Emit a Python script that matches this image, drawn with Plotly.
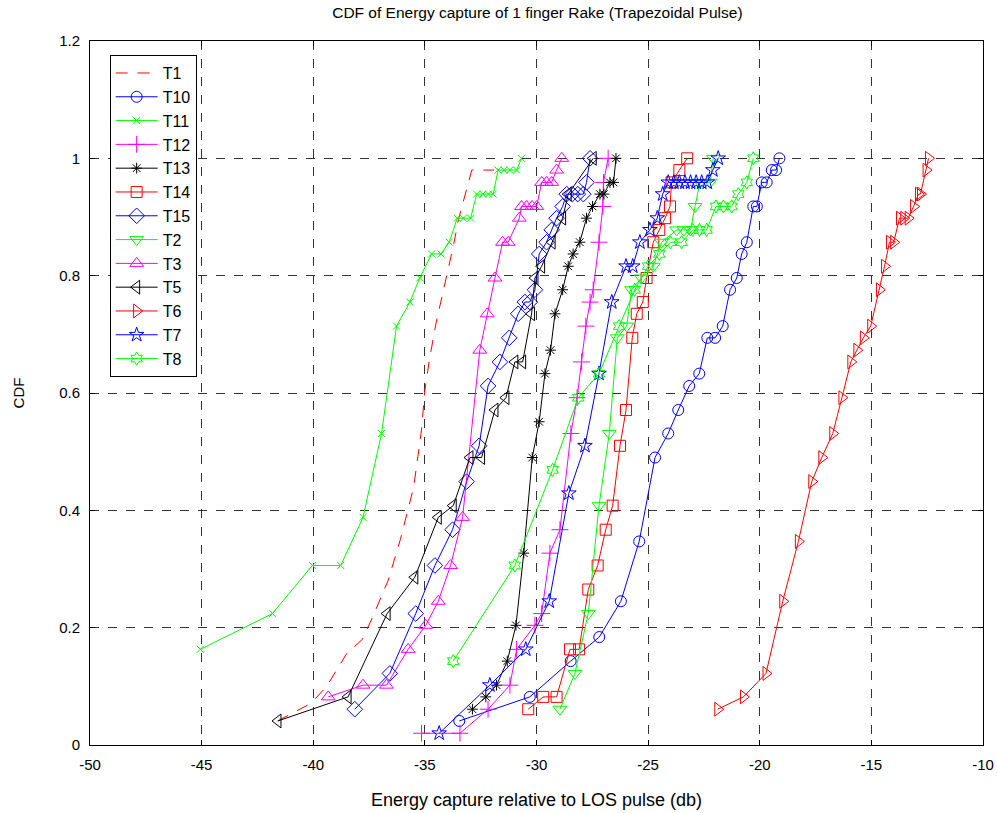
import plotly.graph_objects as go

# ---------------- data (x: energy capture in dB, y: CDF) ----------------
t1_x = [-41.6, -40.1, -39.4, -38.5, -37.8, -37.4, -36.65, -36.1, -35.5, -35.15, -35.0, -34.8, -34.5, -34.0, -33.7, -33.5, -33.1, -32.9, -31.9]
t1_y = [0.041, 0.071, 0.100, 0.156, 0.180, 0.213, 0.280, 0.350, 0.440, 0.537, 0.605, 0.656, 0.719, 0.804, 0.855, 0.895, 0.952, 0.980, 0.980]

t10_x = [-33.46, -30.30, -28.47, -27.19, -26.22, -25.40, -24.69, -24.10, -23.65, -23.16, -22.71, -22.35, -22.00, -21.66, -21.33, -21.03, -20.81, -20.58, -20.29, -20.13, -19.91, -19.69, -19.46, -19.27, -19.12]
t10_y = [0.041, 0.082, 0.143, 0.184, 0.245, 0.347, 0.490, 0.531, 0.571, 0.612, 0.633, 0.694, 0.694, 0.714, 0.776, 0.796, 0.837, 0.857, 0.918, 0.918, 0.959, 0.959, 0.980, 0.980, 1.000]

t11_x = [-45.06, -41.83, -40.04, -38.77, -37.77, -36.94, -36.27, -35.67, -35.23, -34.70, -34.28, -33.91, -33.55, -33.28, -32.95, -32.68, -32.40, -32.15, -31.94, -31.72, -31.45, -31.20, -30.89, -30.67]
t11_y = [0.163, 0.224, 0.306, 0.306, 0.388, 0.531, 0.714, 0.755, 0.796, 0.837, 0.837, 0.857, 0.898, 0.898, 0.898, 0.939, 0.939, 0.939, 0.939, 0.980, 0.980, 0.980, 0.980, 1.000]

t12_x = [-35.15, -33.43, -32.17, -31.19, -30.89, -30.07, -29.77, -29.40, -28.95, -28.46, -28.18, -27.98, -27.79, -27.60, -27.46, -27.20, -27.03, -27.00, -26.79]
t12_y = [0.020, 0.020, 0.061, 0.102, 0.163, 0.204, 0.224, 0.327, 0.367, 0.531, 0.592, 0.653, 0.714, 0.755, 0.776, 0.857, 0.918, 0.959, 1.000]

t13_x = [-32.87, -32.27, -31.79, -31.31, -30.92, -30.57, -30.19, -29.88, -29.62, -29.37, -29.17, -28.83, -28.58, -28.36, -28.06, -27.76, -27.49, -27.16, -26.98, -26.71, -26.55, -26.44]
t13_y = [0.061, 0.082, 0.102, 0.143, 0.204, 0.327, 0.490, 0.551, 0.633, 0.673, 0.735, 0.776, 0.816, 0.837, 0.857, 0.898, 0.918, 0.939, 0.939, 0.959, 0.959, 1.000]

t14_x = [-30.37, -29.70, -29.10, -28.50, -28.09, -27.68, -27.26, -26.90, -26.59, -26.26, -25.99, -25.71, -25.51, -25.24, -25.07, -24.77, -24.50, -24.24, -24.02, -23.95, -23.60, -23.25]
t14_y = [0.061, 0.082, 0.082, 0.163, 0.163, 0.265, 0.306, 0.367, 0.408, 0.510, 0.571, 0.694, 0.735, 0.755, 0.796, 0.857, 0.878, 0.898, 0.918, 0.959, 0.980, 1.000]

t15_x = [-38.14, -36.57, -35.41, -34.55, -33.76, -33.13, -32.57, -32.17, -31.64, -31.22, -30.82, -30.52, -30.30, -30.07, -29.88, -29.55, -29.32, -29.10, -28.83, -28.65, -28.40, -28.15, -27.90, -27.76, -27.60]
t15_y = [0.061, 0.122, 0.224, 0.306, 0.367, 0.449, 0.510, 0.612, 0.653, 0.694, 0.735, 0.755, 0.755, 0.776, 0.837, 0.857, 0.878, 0.898, 0.918, 0.939, 0.939, 0.939, 0.939, 0.959, 1.000]

t2_x = [-28.95, -28.28, -27.68, -27.20, -26.74, -26.38, -25.96, -25.74, -25.30, -24.77, -24.40, -23.72, -23.40, -23.10, -22.90, -22.68, -22.23, -22.08]
t2_y = [0.061, 0.122, 0.224, 0.408, 0.531, 0.694, 0.714, 0.776, 0.796, 0.816, 0.857, 0.878, 0.878, 0.878, 0.918, 0.959, 0.959, 1.000]

t3_x = [-39.33, -37.77, -36.72, -35.75, -34.96, -34.40, -33.85, -33.31, -32.54, -32.21, -31.86, -31.52, -31.27, -30.77, -30.67, -30.45, -30.20, -29.99, -29.77, -29.55, -29.32, -29.10, -28.87]
t3_y = [0.082, 0.102, 0.102, 0.163, 0.204, 0.245, 0.306, 0.388, 0.673, 0.735, 0.796, 0.857, 0.857, 0.898, 0.918, 0.918, 0.918, 0.918, 0.959, 0.959, 0.959, 0.980, 1.000]

t5_x = [-41.58, -38.44, -36.69, -35.45, -34.40, -33.73, -32.98, -32.46, -31.86, -31.37, -30.97, -30.62, -30.22, -30.07, -29.77, -29.30, -28.83, -28.58, -27.46]
t5_y = [0.041, 0.082, 0.224, 0.286, 0.388, 0.408, 0.490, 0.490, 0.571, 0.592, 0.653, 0.653, 0.735, 0.796, 0.816, 0.857, 0.898, 0.939, 1.000]

t6_x = [-21.88, -20.73, -19.72, -18.97, -18.27, -17.67, -17.22, -16.73, -16.32, -15.92, -15.65, -15.36, -15.03, -14.64, -14.41, -14.19, -14.00, -13.74, -13.55, -13.35, -13.11, -12.89, -12.80, -12.55, -12.44]
t6_y = [0.061, 0.082, 0.122, 0.245, 0.347, 0.449, 0.490, 0.531, 0.592, 0.653, 0.673, 0.694, 0.714, 0.776, 0.816, 0.857, 0.857, 0.898, 0.898, 0.898, 0.918, 0.939, 0.939, 0.980, 1.000]

t7_x = [-34.36, -32.09, -30.48, -29.43, -28.55, -27.83, -27.20, -26.63, -25.99, -25.69, -25.37, -24.92, -24.59, -24.35, -24.10, -23.85, -23.60, -23.35, -23.10, -22.85, -22.60, -22.35, -22.10, -21.86]
t7_y = [0.020, 0.102, 0.163, 0.245, 0.429, 0.510, 0.633, 0.755, 0.816, 0.816, 0.857, 0.878, 0.898, 0.939, 0.959, 0.959, 0.959, 0.959, 0.959, 0.959, 0.959, 0.959, 0.980, 1.000]

t8_x = [-33.73, -30.97, -29.28, -28.13, -27.20, -26.30, -25.60, -25.00, -24.50, -24.00, -23.50, -23.00, -22.70, -22.38, -21.96, -21.63, -21.26, -20.96, -20.58, -20.29]
t8_y = [0.143, 0.306, 0.469, 0.592, 0.633, 0.714, 0.776, 0.816, 0.837, 0.857, 0.857, 0.878, 0.878, 0.878, 0.918, 0.918, 0.918, 0.939, 0.959, 1.000]

x_ticks = [-50, -45, -40, -35, -30, -25, -20, -15, -10]
x_tick_text = ["-50", "-45", "-40", "-35", "-30", "-25", "-20", "-15", "-10"]
y_ticks = [0, 0.2, 0.4, 0.6, 0.8, 1.0, 1.2]
y_tick_text = ["0", "0.2", "0.4", "0.6", "0.8", "1", "1.2"]

RED, BLUE, GREEN, MAG, BLK = "#FF0000", "#0000FF", "#00FF00", "#FF00FF", "#000000"

series = [
    ("T1", t1_x, t1_y, RED, None, 0),
    ("T10", t10_x, t10_y, BLUE, "circle-open", 11),
    ("T11", t11_x, t11_y, GREEN, "x-thin-open", 7),
    ("T12", t12_x, t12_y, MAG, "cross-thin-open", 12),
    ("T13", t13_x, t13_y, BLK, "asterisk-open", 9),
    ("T14", t14_x, t14_y, RED, "square-open", 11),
    ("T15", t15_x, t15_y, BLUE, "diamond-open", 12),
    ("T2", t2_x, t2_y, GREEN, "triangle-down-open", 12),
    ("T3", t3_x, t3_y, MAG, "triangle-up-open", 12),
    ("T5", t5_x, t5_y, BLK, "triangle-left-open", 12),
    ("T6", t6_x, t6_y, RED, "triangle-right-open", 12),
    ("T7", t7_x, t7_y, BLUE, "star-open", 11),
    ("T8", t8_x, t8_y, GREEN, "hexagram-open", 10),
]

fig = go.Figure()
for name, xs, ys, col, sym, size in series:
    if sym is None:
        fig.add_trace(go.Scatter(x=xs, y=ys, name=name, mode="lines",
                                 line=dict(color=col, width=1, dash="12px,10px")))
    else:
        fig.add_trace(go.Scatter(x=xs, y=ys, name=name, mode="lines+markers",
                                 line=dict(color=col, width=1),
                                 marker=dict(symbol=sym, size=size, color=col,
                                             line=dict(color=col, width=1))))

axis_common = dict(showline=True, linecolor="black", linewidth=1, mirror="ticks",
                   ticks="inside", ticklen=5, tickcolor="black", automargin=False,
                   showgrid=True, gridcolor="#333333", griddash="dash", gridwidth=1,
                   zeroline=False, tickfont=dict(size=15, color="black"))

fig.update_layout(
    width=997, height=813,
    margin=dict(l=90, r=14, t=41, b=68),
    paper_bgcolor="white", plot_bgcolor="white",
    font=dict(family="Liberation Sans, Arial, sans-serif", size=13, color="black"),
    title=dict(text="CDF of Energy capture of 1 finger Rake (Trapezoidal Pulse)",
               x=0.5390, xanchor="center", y=0.984, yanchor="middle",
               font=dict(size=15.5)),
    xaxis=dict(range=[-50, -10], tickvals=x_ticks, ticktext=x_tick_text,
               ticklabelstandoff=6,
               title=dict(text="Energy capture relative to LOS pulse (db)", standoff=21,
                          font=dict(size=18)),
               **axis_common),
    yaxis=dict(range=[0, 1.2], tickvals=y_ticks, ticktext=y_tick_text,
               ticklabelstandoff=6,
               title=dict(text="CDF", standoff=30, font=dict(size=15)),
               **axis_common),
    legend=dict(x=0.022, y=0.980, xanchor="left", yanchor="top",
                bgcolor="white", bordercolor="black", borderwidth=1,
                font=dict(size=16), tracegroupgap=0, itemwidth=42),
    showlegend=True,
)

fig.write_html("out.html")
